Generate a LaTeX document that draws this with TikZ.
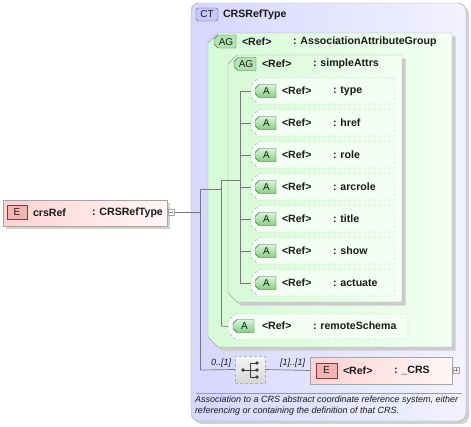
\documentclass[tikz,border=0pt]{standalone}
\usepackage{fontspec}
\setmainfont{Liberation Sans}
\usetikzlibrary{calc}
\definecolor{ctL}{RGB}{214,214,255}
\definecolor{ctR}{RGB}{242,242,255}
\definecolor{agL}{RGB}{214,250,214}
\definecolor{agR}{RGB}{242,255,242}
\definecolor{elL}{RGB}{255,210,210}
\definecolor{elR}{RGB}{255,246,246}
\definecolor{bord}{RGB}{165,165,165}
\definecolor{lineg}{RGB}{120,120,120}
\definecolor{txt}{RGB}{25,25,25}
\definecolor{ctbD}{RGB}{90,90,140}
\definecolor{ctbF}{RGB}{200,200,248}
\definecolor{agbD}{RGB}{80,100,80}
\definecolor{agbF}{RGB}{178,228,178}
\definecolor{abD}{RGB}{70,90,70}
\definecolor{abT}{RGB}{215,245,215}
\definecolor{abB}{RGB}{130,210,130}
\definecolor{attF}{RGB}{244,255,244}
\definecolor{ebD}{RGB}{130,60,60}
\definecolor{ebF}{RGB}{245,180,180}
\definecolor{seqT}{RGB}{245,245,245}
\definecolor{seqB}{RGB}{215,215,215}
\newcommand\chbox[3]{\path[#3] ([xshift=#2]#1.north west) -- (#1.north east) -- (#1.south east) -- ([xshift=#2]#1.south west) -- ([yshift=#2]#1.south west) -- ([yshift=-#2]#1.north west) -- cycle;}
\begin{document}
\begin{tikzpicture}[x=1pt,y=-1pt,
  every node/.style={inner sep=0pt,outer sep=0pt},
  lbl/.style={anchor=west,font=\fontsize{10.6}{12}\selectfont\bfseries,text=txt},
  bfont/.style={font=\fontsize{10}{11}\selectfont,text=txt},
  ifont/.style={anchor=west,font=\fontsize{9}{11}\selectfont\itshape,text=txt},
  conn/.style={draw=lineg,line width=0.7pt},
  frame/.style 2 args={minimum width=#1,minimum height=#2,anchor=north west},
  shadowed/.style={fill=black!20,transform canvas={xshift=3.5pt,yshift=-3.5pt}},
  smallbox/.style={draw=bord,fill=white,minimum width=6.5pt,minimum height=6.5pt,line width=0.5pt}
]
\useasboundingbox (0,0) rectangle (471,426);
% ---------- complex type frame
\node[frame={275pt}{418pt}] (ct) at (191,3) {};
\path[rounded corners=8pt,fill=black!18,transform canvas={xshift=3pt,yshift=-3pt}] (ct.north west) rectangle (ct.south east);
\path[rounded corners=8pt,draw=bord,left color=ctL,right color=ctR] (ct.north west) rectangle (ct.south east);
\node[frame={22pt}{13pt},draw=ctbD,fill=ctbF,rounded corners=2.5pt,bfont] (ctb) at (196,8) {CT};
\node[lbl] (cttitle) at (223,14.5) {CRSRefType};
% ---------- outer attribute group
\node[frame={244pt}{314pt}] (ago) at (208,33) {};
\chbox{ago}{10pt}{shadowed}
\chbox{ago}{10pt}{draw=bord,left color=agL,right color=agR}
\node[frame={22pt}{13pt}] (agob) at (214,35) {};
\chbox{agob}{4pt}{draw=agbD,fill=agbF}
\node[bfont] (agobt) at ($(agob.center)+(1,0.5)$) {AG};
\node[lbl] (agor) at (242,41.5) {<Ref>};
\node[lbl] (agon) at (293,41.5) {: AssociationAttributeGroup};
% ---------- inner attribute group
\node[frame={174pt}{247pt}] (agi) at (228,55) {};
\chbox{agi}{9pt}{shadowed}
\chbox{agi}{9pt}{draw=bord,left color=agL,right color=agR}
\node[frame={22pt}{13pt}] (agib) at (234,57.5) {};
\chbox{agib}{4pt}{draw=agbD,fill=agbF}
\node[bfont] (agibt) at ($(agib.center)+(1,0.5)$) {AG};
\node[lbl] (agir) at (262,64) {<Ref>};
\node[lbl] (agin) at (313,64) {: simpleAttrs};
% ---------- connectors
\coordinate (j0) at (200,212);
\coordinate (j1) at (200,189);
\coordinate (j2) at (221,189);
\coordinate (j3) at (221,180);
\coordinate (j4) at (240,180);
\coordinate (jtop) at (240,91);
\coordinate (jbot) at (240,283);
\coordinate (jrs) at (221,326);
\coordinate (jseq) at (200,370);
\draw[conn] (j1) -- (jseq);
\draw[conn] (j1) -- (j2);
\draw[conn] (j3) -- (jrs);
\draw[conn] (j3) -- (j4);
\draw[conn] (jtop) -- (jbot);
% ---------- attributes
\foreach \n [count=\i from 0] in {type,href,role,arcrole,title,show,actuate}{
  \pgfmathsetmacro\yy{78+32*\i}
  \pgfmathsetmacro\yc{91+32*\i}
  \node[frame={143pt}{26pt}] (at\n) at (251,\yy) {};
  \chbox{at\n}{7pt}{draw=black!30,dash pattern=on 3pt off 2pt,fill=attF}
  \node[frame={21pt}{13pt}] (ab\n) at (255,\yc-6.5) {};
  \chbox{ab\n}{4pt}{draw=abD,top color=abT,bottom color=abB}
  \node[bfont] (abt\n) at ($(ab\n.center)+(1,0.5)$) {A};
  \node[lbl] (ar\n) at (282,\yc) {<Ref>};
  \node[lbl] (an\n) at (333,\yc) {: \n};
  \coordinate (t\n) at (240,\yc);
  \draw[conn] (t\n) -- (at\n.west);
}
% ---------- remoteSchema
\node[frame={180pt}{25pt}] (rs) at (228,314) {};
\chbox{rs}{7pt}{draw=black!30,dash pattern=on 3pt off 2pt,fill=attF}
\node[frame={21pt}{13pt}] (rsb) at (233,319.5) {};
\chbox{rsb}{4pt}{draw=abD,top color=abT,bottom color=abB}
\node[bfont] (rsbt) at ($(rsb.center)+(1,0.5)$) {A};
\node[lbl] (rsr) at (262,326) {<Ref>};
\node[lbl] (rsn) at (313,326) {: remoteSchema};
\draw[conn] (jrs) -- (rs.west);
% ---------- sequence
\node[frame={30pt}{27pt},draw=black!30,dash pattern=on 3pt off 2pt,top color=seqT,bottom color=seqB] (seq) at (235,356) {};
\coordinate (sd) at (243,370);
\coordinate (sv) at (250,370);
\draw[line width=0.8pt,black!75] (sd) -- (sv) (250,363) -- (250,377) (250,363) -- (257,363) (250,377) -- (257,377) (sv) -- (257,370);
\foreach \p in {(243,370),(257,363),(257,370),(257,377)} \fill[black!75] \p circle (1.8pt);
\draw[conn] (jseq) -- (seq.west);
\node[ifont] (m1) at (211,363) {0..[1]};
% ---------- _CRS element
\node[frame={142pt}{27pt},draw=bord,left color=elL,right color=elR] (crs) at (310,357) {};
\node[frame={21pt}{15pt},draw=ebD,fill=ebF,bfont] (crsb) at (316,363) {E};
\node[lbl] (crsr) at (343,370.5) {<Ref>};
\node[lbl] (crsn) at (394,370.5) {: \_CRS};
\node[smallbox,anchor=west] (crsp) at (453,370) {};
\draw[black!45,line width=0.5pt] ($(crsp.center)+(-2,0)$) -- ($(crsp.center)+(2,0)$) ($(crsp.center)+(0,-2)$) -- ($(crsp.center)+(0,2)$);
\draw[conn] (seq.east) -- (crs.west);
\node[ifont] (m2) at (280,363) {[1]..[1]};
% ---------- description
\coordinate (dl) at (196,393);
\coordinate (dr) at (462,393);
\draw[black!40,line width=0.6pt] (dl) -- (dr);
\node[ifont] (d1) at (195,400.5) {Association to a CRS abstract coordinate reference system, either};
\node[ifont] (d2) at (195,411.5) {referencing or containing the definition of that CRS.};
% ---------- crsRef element
\node[frame={164pt}{26pt}] (crsref) at (3,200) {};
\path[fill=black!18,transform canvas={xshift=3pt,yshift=-3pt}] (crsref.north west) rectangle (crsref.south east);
\path[draw=bord,left color=elL,right color=elR] (crsref.north west) rectangle (crsref.south east);
\node[frame={20pt}{14pt},draw=ebD,fill=ebF,bfont] (crsrefb) at (7,205.5) {E};
\node[lbl] (crsrefn) at (33,212.5) {crsRef};
\node[lbl] (crsreft) at (92,212.5) {: CRSRefType};
\node[smallbox,anchor=west] (crsrefm) at (168,212) {};
\draw[black!45,line width=0.5pt] ($(crsrefm.center)+(-2,0)$) -- ($(crsrefm.center)+(2,0)$);
\draw[conn] (crsrefm.east) -- (j0);
\end{tikzpicture}
\end{document}
